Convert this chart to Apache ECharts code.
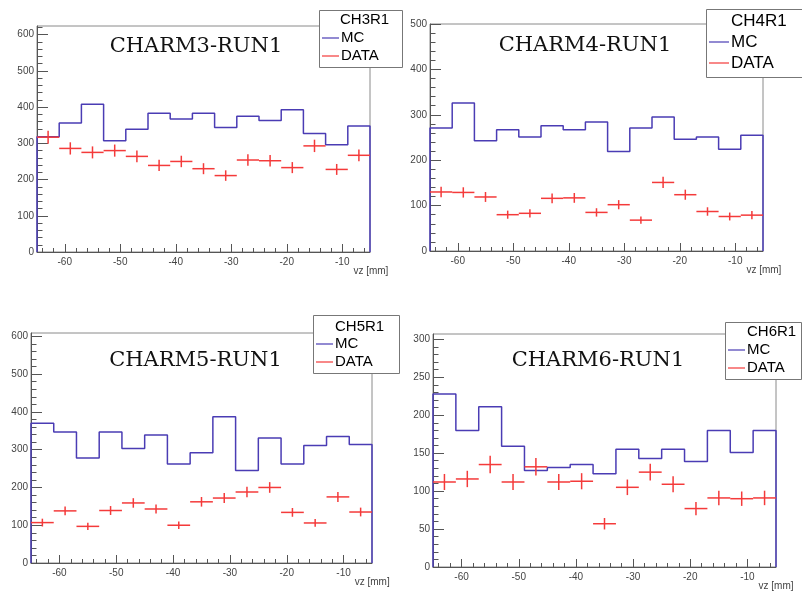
<!DOCTYPE html>
<html><head><meta charset="utf-8">
<script src="https://cdn.jsdelivr.net/npm/echarts@6/dist/echarts.min.js"></script>
<style>html,body{margin:0;padding:0;background:#fff}#c{width:802px;height:593px}</style>
</head><body><div id="c"></div>
<script>
// ---- data ----
const binEdges = [-65,-61,-57,-53,-49,-45,-41,-37,-33,-29,-25,-21,-17,-13,-9,-5];
const xMajorTicks = [-60,-50,-40,-30,-20,-10];
const xTickLabels = ['-60','-50','-40','-30','-20','-10'];
const xAxisTitle = 'vz [mm]';

const mcCH3   = [318,356,408,307,339,383,367,383,344,375,363,393,327,296,348];
const dataCH3 = [317,286,275,280,264,239,250,230,211,254,252,233,293,228,267];
const mcCH4   = [271,326,243,267,251,276,267,284,219,271,295,246,251,224,255];
const dataCH4 = [130,129,119,80,83,116,117,85,102,68,151,124,87,76,79];
const mcCH5   = [370,347,278,347,303,339,262,292,387,245,331,262,311,335,314];
const dataCH5 = [107,138,97,139,159,143,100,162,172,188,200,134,106,175,135];
const mcCH6   = [228,180,211,159,127,131,135,123,155,143,155,139,180,151,180];
const dataCH6 = [112,116,135,112,132,112,113,57,105,125,109,77,91,90,91];

const yTicks600 = [0,100,200,300,400,500,600];
const yTicks500 = [0,100,200,300,400,500];
const yTicks300 = [0,50,100,150,200,250,300];

const titles = ['CHARM3-RUN1','CHARM4-RUN1','CHARM5-RUN1','CHARM6-RUN1'];
const legendHeaders = ['CH3R1','CH4R1','CH5R1','CH6R1'];
const legendNames = ['MC','DATA'];

// ---- layout ----
const panels = [
  {mc:mcCH3, data:dataCH3, ymax:624, yTicks:yTicks600, minorStep:20,
   grid:{left:37, top:26, width:333, height:226},
   title:{x:196, y:47},
   legend:{x:319, y:10, w:83, h:57, fs:15, hx:340, hy:20, rows:[38,56], lx0:322, lx1:339, tx:341}},
  {mc:mcCH4, data:dataCH4, ymax:500, yTicks:yTicks500, minorStep:20,
   grid:{left:430, top:24, width:333, height:227},
   title:{x:585, y:46},
   legend:{x:706, y:9, w:96, h:68, fs:17, hx:731, hy:21, rows:[42,63], lx0:709, lx1:729, tx:731}},
  {mc:mcCH5, data:dataCH5, ymax:609, yTicks:yTicks600, minorStep:20,
   grid:{left:31, top:333, width:341, height:230},
   title:{x:195.5, y:361},
   legend:{x:313, y:315, w:86, h:58, fs:15, hx:335, hy:327, rows:[344,362], lx0:316, lx1:333, tx:335}},
  {mc:mcCH6, data:dataCH6, ymax:307, yTicks:yTicks300, minorStep:10,
   grid:{left:433, top:334, width:343, height:233},
   title:{x:598, y:361},
   legend:{x:725, y:322, w:76, h:57, fs:15, hx:747, hy:332, rows:[350,368], lx0:728, lx1:745, tx:747}}
];

const MC_COLOR = '#4a3cb4';
const DATA_COLOR = '#f43a3a';
const AXIS_COLOR = '#555';
const LABEL_COLOR = '#444';
const SANS = 'Liberation Sans, Arial, sans-serif';

function range(a, b, step) { const r = []; for (let v = a; v <= b + 1e-9; v += step) r.push(v); return r; }
const xMinorTicks = range(-64, -6, 2);

const grids = [], xAxes = [], yAxes = [], series = [], graphics = [];

panels.forEach((p, i) => {
  grids.push(Object.assign({show:true, borderColor:'#8a8a8a', borderWidth:1, backgroundColor:'transparent', containLabel:false, outerBoundsMode:'none'}, p.grid));

  xAxes.push({type:'value', gridIndex:i, position:'bottom', min:binEdges[0], max:binEdges[binEdges.length-1],
    axisLine:{show:true, onZero:false, lineStyle:{color:AXIS_COLOR, width:1}},
    axisTick:{show:true, inside:true, length:8, customValues:xMajorTicks, lineStyle:{color:AXIS_COLOR}},
    axisLabel:{show:true, customValues:xMajorTicks, margin:5, fontSize:10, color:LABEL_COLOR, fontFamily:SANS,
      formatter: v => xTickLabels[xMajorTicks.indexOf(v)] ?? String(v)},
    splitLine:{show:false},
    name:xAxisTitle, nameLocation:'end', nameGap:0,
    nameTextStyle:{align:'right', verticalAlign:'top', padding:[14,0,0,0], fontSize:10, color:LABEL_COLOR, fontFamily:SANS}});
  xAxes.push({type:'value', gridIndex:i, position:'bottom', min:binEdges[0], max:binEdges[binEdges.length-1],
    axisLine:{show:false, onZero:false},
    axisTick:{show:true, inside:true, length:4, customValues:xMinorTicks, lineStyle:{color:AXIS_COLOR}},
    axisLabel:{show:false}, splitLine:{show:false}});

  const yMinor = range(0, p.ymax, p.minorStep);
  yAxes.push({type:'value', gridIndex:i, position:'left', min:0, max:p.ymax,
    axisLine:{show:true, onZero:false, lineStyle:{color:AXIS_COLOR, width:1}},
    axisTick:{show:true, inside:true, length:11, customValues:p.yTicks, lineStyle:{color:AXIS_COLOR}},
    axisLabel:{show:true, customValues:p.yTicks, margin:3, fontSize:10, color:LABEL_COLOR, fontFamily:SANS},
    splitLine:{show:false}});
  yAxes.push({type:'value', gridIndex:i, position:'left', min:0, max:p.ymax,
    axisLine:{show:false, onZero:false},
    axisTick:{show:true, inside:true, length:5.5, customValues:yMinor, lineStyle:{color:AXIS_COLOR}},
    axisLabel:{show:false}, splitLine:{show:false}});

  // MC histogram step outline
  const mcPts = [[binEdges[0], 0]];
  p.mc.forEach((v, k) => { mcPts.push([binEdges[k], v]); mcPts.push([binEdges[k+1], v]); });
  mcPts.push([binEdges[binEdges.length-1], 0]);
  series.push({type:'line', name:'MC', xAxisIndex:2*i, yAxisIndex:2*i, data:mcPts, symbol:'none',
    lineStyle:{color:MC_COLOR, width:1.5}, z:3, silent:true, animation:false, clip:false});

  // DATA points with error bars
  const dPts = p.data.map((v, k) => [binEdges[k], binEdges[k+1], (binEdges[k]+binEdges[k+1])/2, v, Math.sqrt(v)]);
  series.push({type:'custom', name:'DATA', xAxisIndex:2*i, yAxisIndex:2*i, data:dPts, z:4, silent:true, animation:false,
    encode:{x:[0,1,2], y:3},
    renderItem: (params, api) => {
      const lo = api.value(0), hi = api.value(1), c = api.value(2), y = api.value(3), e = api.value(4);
      const l = api.coord([lo, y]), r = api.coord([hi, y]), t = api.coord([c, y + e]), b = api.coord([c, y - e]);
      const st = {stroke:DATA_COLOR, lineWidth:1.5};
      return {type:'group', children:[
        {type:'line', shape:{x1:l[0], y1:l[1], x2:r[0], y2:r[1]}, style:st},
        {type:'line', shape:{x1:t[0], y1:t[1], x2:b[0], y2:b[1]}, style:st}
      ]};
    }});

  // title
  graphics.push({type:'text', x:p.title.x, y:p.title.y, z:10,
    style:{text:titles[i], fill:'#111', font:'21px "DejaVu Serif", serif', textAlign:'center', textVerticalAlign:'middle'}});

  // legend box
  const L = p.legend;
  graphics.push({type:'rect', z:20, shape:{x:L.x+0.5, y:L.y+0.5, width:L.w, height:L.h},
    style:{fill:'#fff', stroke:'#777', lineWidth:1}});
  graphics.push({type:'text', z:21, x:L.hx, y:L.hy,
    style:{text:legendHeaders[i], fill:'#000', font:L.fs+'px "Liberation Sans", Arial, sans-serif', textVerticalAlign:'middle'}});
  [MC_COLOR, DATA_COLOR].forEach((col, j) => {
    graphics.push({type:'line', z:21, shape:{x1:L.lx0, y1:L.rows[j], x2:L.lx1, y2:L.rows[j]}, style:{stroke:col, lineWidth:1.5, opacity:0.8}});
    graphics.push({type:'text', z:21, x:L.tx, y:L.rows[j],
      style:{text:legendNames[j], fill:'#000', font:L.fs+'px "Liberation Sans", Arial, sans-serif', textVerticalAlign:'middle'}});
  });
});

const chart = echarts.init(document.getElementById('c'), null, {renderer:'canvas'});
chart.setOption({animation:false, backgroundColor:'#fff', grid:grids, xAxis:xAxes, yAxis:yAxes, series:series, graphic:graphics});
</script>
</body></html>
